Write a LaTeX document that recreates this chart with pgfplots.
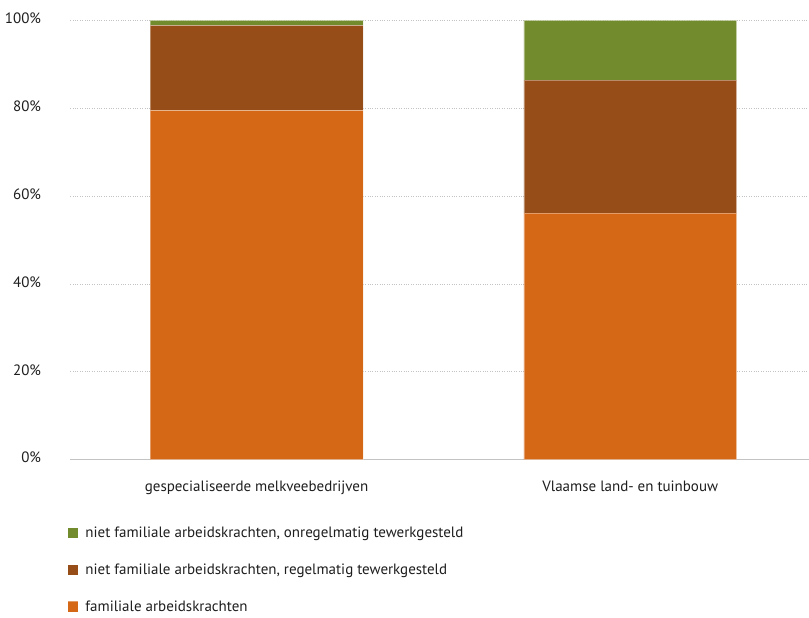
\documentclass[border=0pt]{standalone}
\usepackage{pgfplots}
\pgfplotsset{compat=1.18}
\usepackage{fontspec}
\setmainfont{PT Sans}
\definecolor{cOrange}{RGB}{213,104,23}
\definecolor{cBrown}{RGB}{150,77,24}
\definecolor{cGreen}{RGB}{114,140,45}
\definecolor{cGrid}{RGB}{195,195,195}
\definecolor{cText}{RGB}{30,30,30}
\begin{document}
\fontsize{15pt}{18pt}\selectfont
\begin{tikzpicture}
\begin{axis}[
  at={(0pt,0pt)}, anchor=south west,
  scale only axis,
  width=739pt, height=439.5pt,
  xmin=-0.4987, xmax=1.4773,
  ymin=0, ymax=100,
  ybar stacked,
  bar width=213pt,
  axis line style={draw=none},
  clip=false,
  xtick={0,1},
  xticklabels={gespecialiseerde melkveebedrijven, Vlaamse land- en tuinbouw},
  xticklabel style={yshift=-16pt, text=cText, font=\fontsize{15pt}{18pt}\selectfont},
  ytick={0,20,40,60,80,100},
  yticklabels={0\%,20\%,40\%,60\%,80\%,100\%},
  yticklabel style={xshift=-24pt, yshift=2pt, text=cText, font=\fontsize{15pt}{18pt}\selectfont},
  /pgf/number format/assume math mode=true,
  tick style={draw=none},
  ymajorgrids=true,
  grid style={cGrid, dotted, line width=0.8pt},
  reverse legend,
  legend cell align=left,
  legend style={
    draw=none, fill=none,
    at={(axis description cs:0,0)}, anchor=north west,
    xshift=-6pt, yshift=-63pt,
    font=\fontsize{15pt}{18pt}\selectfont, text=cText,
    row sep=20pt,
    /tikz/every odd column/.append style={column sep=5pt},
  },
  legend image code/.code={\fill[#1] (0pt,-5pt) rectangle (10.5pt,5.5pt);},
]
\addplot[fill=cOrange, draw=white, draw opacity=0.35, line width=0.5pt] coordinates {(0,79.5) (1,56.1)};
\addlegendentry{familiale arbeidskrachten}
\addplot[fill=cBrown, draw=white, draw opacity=0.35, line width=0.5pt] coordinates {(0,19.4) (1,30.3)};
\addlegendentry{niet familiale arbeidskrachten, regelmatig tewerkgesteld}
\addplot[fill=cGreen, draw=white, draw opacity=0.35, line width=0.5pt] coordinates {(0,1.1) (1,13.6)};
\addlegendentry{niet familiale arbeidskrachten, onregelmatig tewerkgesteld}
\draw[cGrid, line width=0.8pt] (axis cs:-0.4987,0) -- (axis cs:1.4773,0);
\end{axis}
\path (-70pt,-154pt) rectangle (739pt,460pt);
\end{tikzpicture}
\end{document}
